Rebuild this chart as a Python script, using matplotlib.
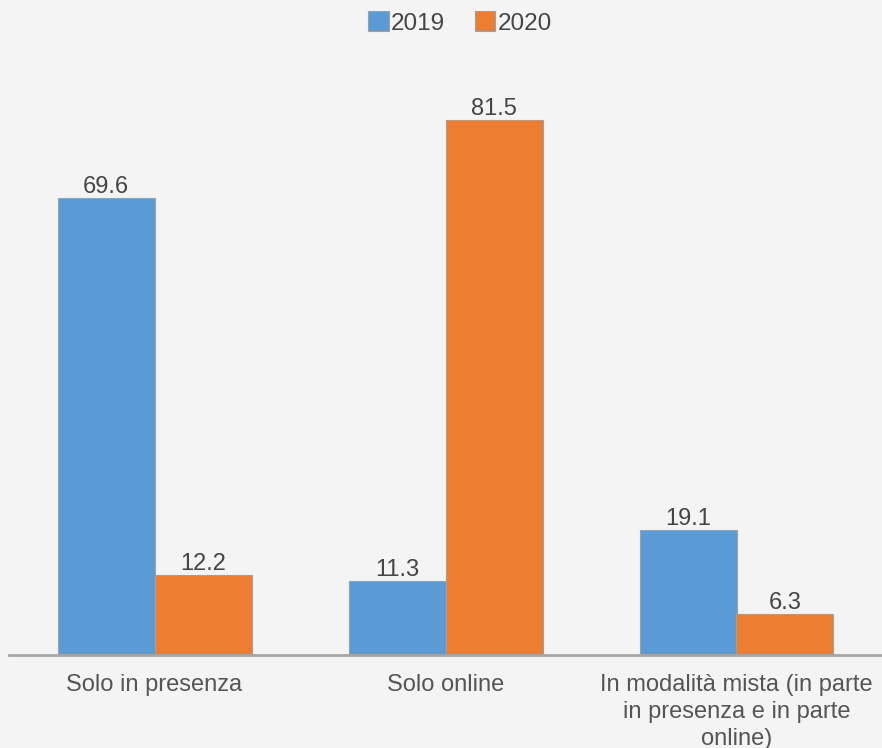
import matplotlib.pyplot as plt
import numpy as np

plt.rcParams['font.family'] = ['Liberation Sans', 'DejaVu Sans']

categorie = ['Solo in presenza', 'Solo online',
             'In modalità mista (in parte\nin presenza e in parte\nonline)']
anni = ['2019', '2020']
valori_2019 = [69.6, 11.3, 19.1]
valori_2020 = [12.2, 81.5, 6.3]
colori = ['#5b9bd5', '#ed7d31']

sfondo = '#f4f4f4'
testo = '#454545'

fig = plt.figure(figsize=(8.82, 7.48), dpi=100, facecolor=sfondo)
ax = fig.add_axes([9 / 882, 93 / 748, 873 / 882, 590.8 / 748], facecolor=sfondo)

x = np.arange(len(categorie))
w = 1 / 3
b1 = ax.bar(x - w / 2, valori_2019, w, color=colori[0], edgecolor='#a0a0a0', linewidth=0.8, label=anni[0])
b2 = ax.bar(x + w / 2, valori_2020, w, color=colori[1], edgecolor='#a0a0a0', linewidth=0.8, label=anni[1])

for barre in (b1, b2):
    ax.bar_label(barre, fmt='%.1f', padding=0, fontsize=17, color=testo)

ax.set_xlim(-0.5, 2.5)
ax.set_ylim(0, 90)
ax.set_xticks(x)
ax.set_xticklabels(categorie, fontsize=17, color='#555555', linespacing=1.27)
ax.tick_params(axis='x', length=0, pad=14)
ax.set_yticks([])
for s in ['top', 'right', 'left']:
    ax.spines[s].set_visible(False)
ax.spines['bottom'].set_color('#a6a6a6')
ax.spines['bottom'].set_linewidth(2)

fig.legend(loc='center', bbox_to_anchor=(460 / 882, 1 - 23 / 748), ncol=2, frameon=False,
           fontsize=17.5, handlelength=0.85, handleheight=0.85, handletextpad=0.1,
           columnspacing=1.2, labelcolor=testo)

fig.savefig('out.png', dpi=100, facecolor=sfondo)
